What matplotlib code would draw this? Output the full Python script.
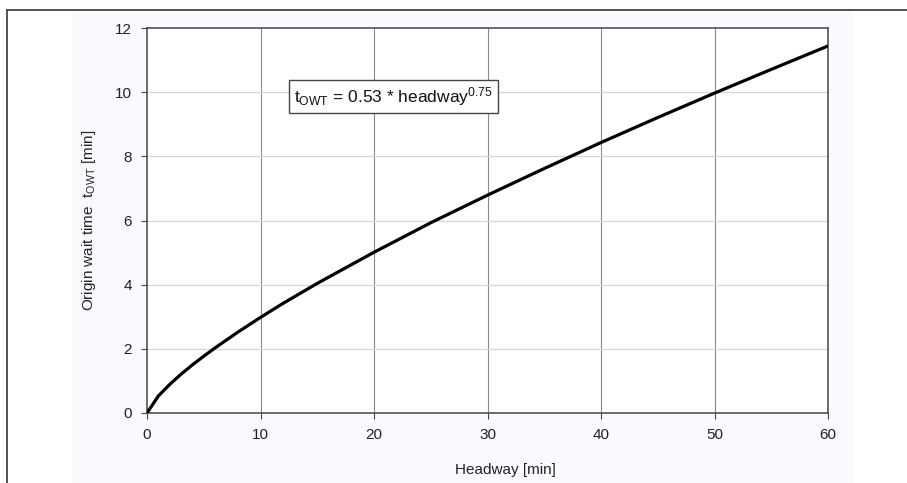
import matplotlib
matplotlib.use("Agg")
import matplotlib.pyplot as plt
from matplotlib.patches import Rectangle
from matplotlib.lines import Line2D

plt.rcParams['font.family'] = ['Liberation Sans', 'DejaVu Sans']
plt.rcParams['mathtext.fontset'] = 'custom'
plt.rcParams['mathtext.rm'] = 'Liberation Sans'
plt.rcParams['mathtext.it'] = 'Liberation Sans'

# Origin wait time vs. headway
headway = [0, 1, 2, 3, 4, 5, 6, 8, 10, 12, 15, 20, 25, 30, 35, 40, 45, 50, 55, 60]
wait_time = [0, 0.53, 0.89, 1.21, 1.50, 1.77, 2.03, 2.52, 2.98, 3.42, 4.04,
             5.01, 5.93, 6.79, 7.62, 8.43, 9.21, 9.97, 10.71, 11.44]

x_ticks = [0, 10, 20, 30, 40, 50, 60]
y_ticks = [0, 2, 4, 6, 8, 10, 12]

W, H = 907, 483
fig = plt.figure(figsize=(W / 100, H / 100), dpi=100)
fig.patch.set_facecolor('white')

# faint panel behind the chart and the outer frame (top/left edges)
fig.patches.append(Rectangle((72 / W, 0), (853 - 72) / W, 1 - 10 / H,
                             transform=fig.transFigure, facecolor='#f8fafd',
                             edgecolor='none', zorder=-5))
fig.lines.append(Line2D([7 / W, 7 / W], [0, 1 - 9.5 / H], transform=fig.transFigure,
                        color='#444444', lw=1.3, zorder=-4))
fig.lines.append(Line2D([7 / W, 1], [1 - 9.5 / H, 1 - 9.5 / H], transform=fig.transFigure,
                        color='#444444', lw=1.3, zorder=-4))

ax = fig.add_axes([147 / W, 1 - 413 / H, (828 - 147) / W, (413 - 28) / H])
ax.set_zorder(2)
ax.set_facecolor('white')

for xv in x_ticks[1:-1]:
    ax.axvline(xv, color='#8a8a8a', lw=0.8, zorder=1)
for yv in y_ticks[1:-1]:
    ax.axhline(yv, color='#d6d6d6', lw=0.9, zorder=1)

ax.plot(headway, wait_time, color='black', lw=2.3, solid_joinstyle='round', zorder=3)

ax.set_xlim(0, 60)
ax.set_ylim(0, 12)
ax.set_xticks(x_ticks)
ax.set_yticks(y_ticks)
ax.tick_params(axis='both', direction='out', length=4.5, width=0.8, color='#444444',
               labelsize=11, labelcolor='#222222', pad=6.5)
for s in ax.spines.values():
    s.set_color('#444444')
    s.set_linewidth(1.1)

ax.set_xlabel('Headway [min]', fontsize=11, color='#222222')
ax.xaxis.set_label_coords((505 - 147) / 681, -(470 - 413) / 385)
ax.xaxis.label.set_va('center')
ax.set_ylabel(r'Origin wait time  t$_{\mathrm{OWT}}$ [min]', fontsize=11,
              color='#222222')
ax.yaxis.set_label_coords(-(147 - 89) / 681, 0.5)
ax.yaxis.label.set_va('center')

ax.text(12.95, 9.86, r't$_{\mathrm{OWT}}$ = 0.53 * headway$^{0.75}$', fontsize=12.5,
        color='#111111', va='center', ha='left', zorder=4,
        bbox=dict(boxstyle='square,pad=0.3', facecolor='white',
                  edgecolor='#444444', lw=1.0))

fig.savefig('out.png', dpi=100)
